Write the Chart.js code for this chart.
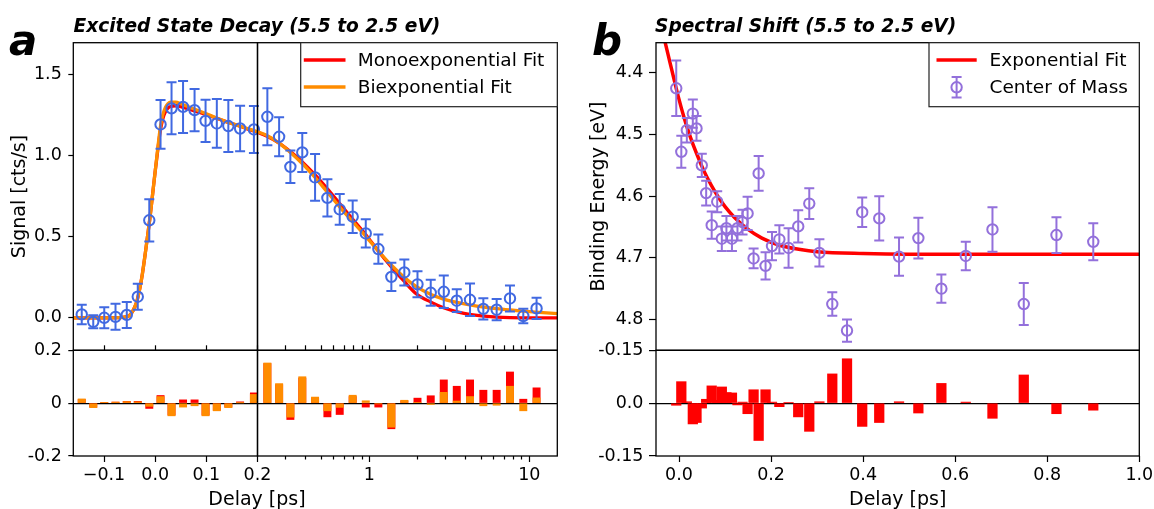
<!DOCTYPE html>
<html>
<head>
<meta charset="utf-8">
<script src="https://cdn.jsdelivr.net/npm/chart.js@4.4.1/dist/chart.umd.min.js"></script>
<style>
  html, body { margin: 0; padding: 0; background: #fff; }
  #stage { position: relative; width: 1154px; height: 509px; overflow: hidden; background: #fff; }
  #stage canvas { position: absolute; left: 0; top: 0; }
  #overlay { position: absolute; left: 0; top: 0; z-index: 10; }
  .title { font-family: 'DejaVu Sans', sans-serif; font-weight: 700; font-style: italic; font-size: 18.6px; }
  .letter { font-family: 'DejaVu Sans', sans-serif; font-weight: 700; font-style: italic; font-size: 42px; }
  .axis { font-family: 'DejaVu Sans', sans-serif; font-size: 19px; }
  .leg { font-family: 'DejaVu Sans', sans-serif; font-size: 18.5px; }
</style>
</head>
<body>
<div id="stage">
<svg id="overlay" width="1154" height="509" xmlns="http://www.w3.org/2000/svg">
  <text class="letter" x="9" y="55">a</text>
  <text class="title" x="73.5" y="31.5">Excited State Decay (5.5 to 2.5 eV)</text>
  <text class="letter" x="592" y="55">b</text>
  <text class="title" x="655" y="31.5">Spectral Shift (5.5 to 2.5 eV)</text>

  <text class="axis" text-anchor="middle" transform="translate(24.5,196.5) rotate(-90)">Signal [cts/s]</text>
  <text class="axis" text-anchor="middle" transform="translate(604,196.5) rotate(-90)">Binding Energy [eV]</text>
  <text class="axis" text-anchor="middle" x="257" y="504.5">Delay [ps]</text>
  <text class="axis" text-anchor="middle" x="897.7" y="504.5">Delay [ps]</text>

  <!-- legend, panel a -->
  <rect x="300.7" y="42.7" width="256.6" height="64" fill="#fff" stroke="#222" stroke-width="1.2"/>
  <line x1="303.8" y1="60" x2="345.5" y2="60" stroke="#FF0000" stroke-width="3.5"/>
  <text class="leg" x="357.7" y="65.7">Monoexponential Fit</text>
  <line x1="303.8" y1="87" x2="345.5" y2="87" stroke="#FF8C00" stroke-width="3.5"/>
  <text class="leg" x="357.7" y="93">Biexponential Fit</text>

  <!-- legend, panel b -->
  <rect x="929" y="42.7" width="210.3" height="64" fill="#fff" stroke="#222" stroke-width="1.2"/>
  <line x1="936.5" y1="60" x2="976.7" y2="60" stroke="#FF0000" stroke-width="3.5"/>
  <text class="leg" x="989.5" y="65.7">Exponential Fit</text>
  <g stroke="#9370DB" stroke-width="2" fill="none">
    <line x1="956.6" y1="77" x2="956.6" y2="97.5"/>
    <line x1="951.6" y1="77" x2="961.6" y2="77"/>
    <line x1="951.6" y1="97.5" x2="961.6" y2="97.5"/>
    <circle cx="956.6" cy="87.3" r="5.2"/>
  </g>
  <text class="leg" x="989.5" y="93">Center of Mass</text>
</svg>
</div>
<script>
// ---------- Panel a: excited-state signal vs delay ----------
const delayA = [-0.1435, -0.121, -0.0995, -0.0775, -0.0555, -0.034, -0.0115, 0.0105, 0.032, 0.0545,
  0.077, 0.0985, 0.1205, 0.143, 0.166, 0.193,
  0.2305, 0.273, 0.321, 0.381, 0.458, 0.547, 0.653, 0.787, 0.95, 1.139, 1.373, 1.655, 2.0, 2.42,
  2.92, 3.52, 4.26, 5.16, 6.25, 7.57, 9.17, 11.1];
const signalA = [0.021, -0.025, 0.0, 0.006, 0.018, 0.13, 0.60, 1.19, 1.289, 1.298,
  1.278, 1.212, 1.196, 1.18, 1.165, 1.159,
  1.237, 1.114, 0.929, 1.018, 0.864, 0.738, 0.667, 0.622, 0.519, 0.423, 0.252, 0.279, 0.206, 0.154,
  0.16, 0.105, 0.111, 0.055, 0.05, 0.119, 0.011, 0.058];
const signalErrA = [0.06, 0.04, 0.065, 0.08, 0.08, 0.08, 0.13, 0.15, 0.16, 0.16,
  0.13, 0.13, 0.15, 0.16, 0.14, 0.145,
  0.175, 0.12, 0.1, 0.12, 0.144, 0.115, 0.095, 0.1, 0.087, 0.09, 0.087, 0.08, 0.08, 0.08,
  0.1, 0.07, 0.1, 0.065, 0.065, 0.08, 0.045, 0.065];
const residMonoA = [0.014, -0.015, 0.003, 0.004, 0.007, 0.007, -0.02, 0.029, -0.045, 0.0125,
  0.0125, -0.045, -0.027, -0.015, 0.005, 0.039,
  0.15, 0.07, -0.062, 0.095, 0.02, -0.052, -0.043, 0.025, -0.015, -0.015, -0.097, 0.009, 0.019, 0.028,
  0.088, 0.064, 0.088, 0.049, 0.049, 0.118, 0.015, 0.058];
const residBiA = [0.016, -0.017, 0.003, 0.004, 0.006, 0.005, -0.012, 0.025, -0.048, -0.015,
  -0.01, -0.048, -0.029, -0.017, 0.001, 0.033,
  0.152, 0.074, -0.053, 0.1, 0.023, -0.029, -0.016, 0.03, 0.009, -0.003, -0.091, 0.011, 0.003, -0.005,
  0.041, 0.008, 0.025, -0.01, -0.008, 0.064, -0.029, 0.02];

const fitDelayA = [-0.16, -0.1, -0.07, -0.06, -0.05, -0.045, -0.04, -0.035, -0.03, -0.025,
  -0.02, -0.015, -0.01, -0.005, 0.0, 0.005, 0.01, 0.015, 0.02, 0.025,
  0.03, 0.04, 0.05, 0.06, 0.08, 0.1, 0.12, 0.14, 0.16, 0.18,
  0.2, 0.226, 0.273, 0.328, 0.385, 0.452, 0.545, 0.656, 0.79, 0.953,
  1.13, 1.37, 1.65, 1.98, 2.41, 2.91, 3.6, 4.33, 5.22, 6.28,
  7.57, 9.12, 10.97, 15];
const biFitA = [0, 0, 0.001, 0.004, 0.015, 0.035, 0.065, 0.11, 0.18, 0.27,
  0.38, 0.5, 0.62, 0.76, 0.9, 1.04, 1.17, 1.25, 1.295, 1.318,
  1.327, 1.327, 1.318, 1.305, 1.28, 1.255, 1.23, 1.205, 1.185, 1.165,
  1.145, 1.125, 1.075, 1.01, 0.945, 0.87, 0.775, 0.68, 0.59, 0.5,
  0.415, 0.325, 0.25, 0.19, 0.145, 0.115, 0.093, 0.078, 0.066, 0.056,
  0.048, 0.041, 0.035, 0.026];
const monoFitA = [0, 0, 0.001, 0.004, 0.015, 0.035, 0.065, 0.11, 0.18, 0.27,
  0.38, 0.5, 0.62, 0.76, 0.9, 1.03, 1.15, 1.225, 1.268, 1.29,
  1.3, 1.305, 1.3, 1.29, 1.27, 1.25, 1.228, 1.206, 1.185, 1.163,
  1.142, 1.12, 1.075, 1.015, 0.955, 0.885, 0.795, 0.70, 0.605, 0.51,
  0.415, 0.315, 0.225, 0.145, 0.098, 0.062, 0.035, 0.02, 0.01, 0.004,
  0.001, 0, 0, 0];

const signalTicks = [0, 0.5, 1.0, 1.5];
const residTicksA = [-0.2, 0, 0.2];
const residTickLabelsA = ['-0.2', '0', '0.2'];
const linDelayTicks = [-0.1, 0, 0.1, 0.2];
const linDelayTickLabels = ['\u22120.1', '0.0', '0.1', '0.2'];
const logMajorTicks = [1, 10];
const logMajorTickLabels = ['1', '10'];
const logMinorTicks = [0.3, 0.4, 0.5, 0.6, 0.7, 0.8, 0.9, 2, 3, 4, 5, 6, 7, 8, 9];

// ---------- Panel b: centre-of-mass binding energy vs delay ----------
const delayB = [-0.006, 0.005, 0.017, 0.03, 0.038, 0.0495, 0.059, 0.071, 0.083, 0.093,
  0.103, 0.115, 0.127, 0.138, 0.149, 0.162, 0.173, 0.188, 0.202, 0.218,
  0.238, 0.259, 0.283, 0.305, 0.333, 0.365, 0.398, 0.435, 0.478, 0.52,
  0.57, 0.623, 0.681, 0.749, 0.82, 0.90];
const energyB = [4.425, 4.528, 4.493, 4.466, 4.49, 4.55, 4.595, 4.647, 4.609, 4.669,
  4.652, 4.669, 4.652, 4.642, 4.628, 4.701, 4.563, 4.713, 4.681, 4.670,
  4.684, 4.649, 4.612, 4.692, 4.775, 4.818, 4.626, 4.636, 4.698, 4.668,
  4.75, 4.697, 4.654, 4.775, 4.663, 4.674];
const energyErrB = [0.045, 0.026, 0.02, 0.023, 0.02, 0.019, 0.02, 0.022, 0.017, 0.02,
  0.02, 0.02, 0.02, 0.02, 0.027, 0.016, 0.028, 0.022, 0.023, 0.023,
  0.032, 0.026, 0.025, 0.022, 0.019, 0.018, 0.024, 0.036, 0.031, 0.033,
  0.023, 0.023, 0.036, 0.034, 0.029, 0.03];
const residB = [-0.006, 0.061, 0.004, -0.059, -0.055, -0.014, 0.011, 0.049, 0.008, 0.046,
  0.03, 0.029, -0.005, 0.003, -0.03, 0.038, -0.106, 0.038, 0.003, -0.01,
  0.001, -0.039, -0.08, 0.004, 0.083, 0.126, -0.066, -0.055, 0.004, -0.028,
  0.056, 0.003, -0.043, 0.08, -0.03, -0.02];
const fitDelayB = [-0.05, -0.03, -0.02, -0.01, 0.0, 0.01, 0.02, 0.03, 0.04, 0.05,
  0.06, 0.08, 0.1, 0.12, 0.15, 0.18, 0.22, 0.26, 0.3, 0.4, 0.5, 0.7, 1.0];
const fitEnergyB = [4.29, 4.351, 4.382, 4.413, 4.443, 4.47, 4.494, 4.515, 4.534, 4.552,
  4.568, 4.595, 4.617, 4.634, 4.654, 4.668, 4.68, 4.686, 4.69, 4.693, 4.694, 4.694, 4.694];

const energyTicks = [4.4, 4.5, 4.6, 4.7, 4.8];
const residTicksB = [-0.15, 0, 0.15];
const residTickLabelsB = ['-0.15', '0.0', '-0.15'];
const delayTicksB = [0, 0.2, 0.4, 0.6, 0.8, 1.0];

// ---------- drawing ----------
const W = 1154, H = 509;
const BLUE = '#4169E1', PURPLE = '#9370DB', RED = '#FF0000', ORANGE = '#FF8C00', INK = '#000';

Chart.defaults.font.family = "'DejaVu Sans', sans-serif";
Chart.defaults.font.size = 17.5;
Chart.defaults.color = INK;

// plot areas of the six axes boxes
const AREA = {
  aMainLin: { left: 73.3, top: 42.7, right: 257.5, bottom: 350.3 },
  aMainLog: { left: 257.5, top: 42.7, right: 557.3, bottom: 350.3 },
  aResLin: { left: 73.3, top: 350.3, right: 257.5, bottom: 456 },
  aResLog: { left: 257.5, top: 350.3, right: 557.3, bottom: 456 },
  bMain: { left: 656, top: 42.7, right: 1139.3, bottom: 350.3 },
  bRes: { left: 656, top: 350.3, right: 1139.3, bottom: 456 }
};

const framePlugin = {
  id: 'frame',
  afterDraw(chart) {
    const a = chart.chartArea, ctx = chart.ctx;
    ctx.save();
    ctx.strokeStyle = INK;
    ctx.lineWidth = 1.3;
    ctx.strokeRect(a.left, a.top, a.right - a.left, a.bottom - a.top);
    ctx.restore();
  }
};

const errorBarPlugin = {
  id: 'errorBars',
  afterDatasetsDraw(chart) {
    const ctx = chart.ctx, xs = chart.scales.x, ys = chart.scales.y;
    chart.data.datasets.forEach(ds => {
      if (!ds.errors) return;
      ctx.save();
      ctx.strokeStyle = ds.borderColor;
      ctx.lineWidth = 2;
      ds.data.forEach((p, i) => {
        const px = xs.getPixelForValue(p.x);
        const lo = ys.getPixelForValue(p.y - ds.errors[i]);
        const hi = ys.getPixelForValue(p.y + ds.errors[i]);
        ctx.beginPath();
        ctx.moveTo(px, lo); ctx.lineTo(px, hi);
        ctx.moveTo(px - 5, lo); ctx.lineTo(px + 5, lo);
        ctx.moveTo(px - 5, hi); ctx.lineTo(px + 5, hi);
        ctx.stroke();
      });
      ctx.restore();
    });
  }
};

function fixedSize(size) {
  return scale => {
    if (scale.isHorizontal()) scale.height = size; else scale.width = size;
    scale.paddingLeft = scale.paddingRight = scale.paddingTop = scale.paddingBottom = 0;
  };
}
function setTicks(values) {
  return scale => { scale.ticks = values.map(v => ({ value: v })); };
}
const tickGrid = len => ({ drawOnChartArea: false, drawTicks: true, tickLength: len, tickColor: INK, tickWidth: 1.2, offset: false });
const zeroGrid = len => ({
  drawOnChartArea: true, drawTicks: len > 0, tickLength: len, tickColor: INK, tickWidth: 1.2, lineWidth: 1.2, offset: false,
  color: c => (c.tick && c.tick.value === 0) ? INK : 'rgba(0,0,0,0)'
});
const noBorder = { display: false };

function makeChart(area, sizes, config) {
  const canvas = document.createElement('canvas');
  canvas.width = W; canvas.height = H;
  document.getElementById('stage').appendChild(canvas);
  config.options.responsive = false;
  config.options.animation = false;
  config.options.devicePixelRatio = 1;
  config.options.layout = { padding: {
    left: area.left - (sizes.left || 0),
    top: area.top - (sizes.top || 0),
    right: W - area.right,
    bottom: H - area.bottom - (sizes.bottom || 0)
  } };
  config.options.plugins = { legend: { display: false }, tooltip: { enabled: false } };
  config.plugins = [framePlugin, errorBarPlugin];
  return new Chart(canvas, config);
}

const pts = (xs, ys) => xs.map((x, i) => ({ x: x, y: ys[i] }));
const inLin = p => p.x <= 0.2;
const inLog = p => p.x >= 0.2;

const signalPts = pts(delayA, signalA);
const linIdx = delayA.map((d, i) => i).filter(i => delayA[i] <= 0.2);
const logIdx = delayA.map((d, i) => i).filter(i => delayA[i] > 0.2);

function markerSet(data, errors, color) {
  return { type: 'scatter', data: data, errors: errors, borderColor: color, pointBorderColor: color,
    backgroundColor: 'rgba(0,0,0,0)', pointBackgroundColor: 'rgba(0,0,0,0)',
    pointRadius: 5.2, pointBorderWidth: 2, showLine: false, clip: false, order: 0 };
}
function curveSet(data, color, width, order) {
  return { type: 'line', data: data, borderColor: color, borderWidth: width, pointRadius: 0,
    cubicInterpolationMode: 'monotone', fill: false, order: order };
}
function barSet(data, color, thickness, order) {
  return { data: data, backgroundColor: color, barThickness: thickness, grouped: false,
    borderWidth: 0, clip: false, order: order };
}

const LIN_MIN = -0.16, LIN_MAX = 0.2, LOG_MIN = 0.2, LOG_MAX = 14.96;

// panel a, main plot, linear delay range
makeChart(AREA.aMainLin, { left: 60 }, {
  type: 'scatter',
  data: { datasets: [
    markerSet(linIdx.map(i => signalPts[i]), linIdx.map(i => signalErrA[i]), BLUE),
    curveSet(pts(fitDelayA, biFitA).filter(inLin), ORANGE, 3.3, 1),
    curveSet(pts(fitDelayA, monoFitA).filter(inLin), RED, 3.3, 2)
  ] },
  options: { scales: {
    x: { type: 'linear', display: false, min: LIN_MIN, max: LIN_MAX, bounds: 'data', offset: false },
    y: { type: 'linear', min: -0.2, max: 1.693, bounds: 'data', afterBuildTicks: setTicks(signalTicks),
      afterFit: fixedSize(60), ticks: { callback: v => v.toFixed(1), padding: 6.5, autoSkip: false },
      grid: tickGrid(5), border: noBorder }
  } }
});

// panel a, main plot, logarithmic delay range
makeChart(AREA.aMainLog, {}, {
  type: 'scatter',
  data: { datasets: [
    markerSet(logIdx.map(i => signalPts[i]), logIdx.map(i => signalErrA[i]), BLUE),
    curveSet(pts(fitDelayA, biFitA).filter(inLog), ORANGE, 3.3, 1),
    curveSet(pts(fitDelayA, monoFitA).filter(inLog), RED, 3.3, 2)
  ] },
  options: { scales: {
    x: { type: 'logarithmic', display: false, min: LOG_MIN, max: LOG_MAX, bounds: 'data', offset: false },
    y: { type: 'linear', display: false, min: -0.2, max: 1.693, bounds: 'data' }
  } }
});

const residMonoPts = pts(delayA, residMonoA);
const residBiPts = pts(delayA, residBiA);

// panel a, residuals, linear delay range
makeChart(AREA.aResLin, { left: 60, top: 5, bottom: 45 }, {
  type: 'bar',
  data: { datasets: [
    barSet(linIdx.map(i => residBiPts[i]), ORANGE, 7.3, 0),
    barSet(linIdx.map(i => residMonoPts[i]), RED, 7.3, 1)
  ] },
  options: { scales: {
    x: { type: 'linear', position: 'bottom', min: LIN_MIN, max: LIN_MAX, bounds: 'data', offset: false,
      afterBuildTicks: setTicks(linDelayTicks), afterFit: fixedSize(45),
      ticks: { callback: (v, i) => linDelayTickLabels[i], padding: 2.5, autoSkip: false, maxRotation: 0 },
      grid: tickGrid(6), border: noBorder },
    xt: { type: 'linear', axis: 'x', position: 'top', min: LIN_MIN, max: LIN_MAX, bounds: 'data', offset: false,
      afterBuildTicks: setTicks(linDelayTicks), afterFit: fixedSize(5),
      ticks: { display: false }, grid: tickGrid(5), border: noBorder },
    y: { type: 'linear', min: -0.2, max: 0.2, bounds: 'data', afterBuildTicks: setTicks(residTicksA),
      afterFit: fixedSize(60), ticks: { callback: (v, i) => residTickLabelsA[i], padding: 6.5, autoSkip: false },
      grid: zeroGrid(5), border: noBorder }
  } }
});

// panel a, residuals, logarithmic delay range
makeChart(AREA.aResLog, { top: 5, bottom: 45 }, {
  type: 'bar',
  data: { datasets: [
    barSet(logIdx.map(i => residBiPts[i]), ORANGE, 7.3, 0),
    barSet(logIdx.map(i => residMonoPts[i]), RED, 7.3, 1)
  ] },
  options: { scales: {
    xm: { type: 'logarithmic', axis: 'x', position: 'bottom', weight: 0, min: LOG_MIN, max: LOG_MAX, bounds: 'data', offset: false,
      afterBuildTicks: setTicks(logMinorTicks), afterFit: fixedSize(0),
      ticks: { display: false }, grid: tickGrid(3.5), border: noBorder },
    x: { type: 'logarithmic', position: 'bottom', weight: 1, min: LOG_MIN, max: LOG_MAX, bounds: 'data', offset: false,
      afterBuildTicks: setTicks(logMajorTicks), afterFit: fixedSize(45),
      ticks: { callback: (v, i) => logMajorTickLabels[i], padding: 2.5, autoSkip: false, maxRotation: 0 },
      grid: tickGrid(6), border: noBorder },
    xt: { type: 'logarithmic', axis: 'x', position: 'top', min: LOG_MIN, max: LOG_MAX, bounds: 'data', offset: false,
      afterBuildTicks: setTicks(logMinorTicks.concat(logMajorTicks).sort((a, b) => a - b)), afterFit: fixedSize(5),
      ticks: { display: false }, grid: tickGrid(5), border: noBorder },
    y: { type: 'linear', min: -0.2, max: 0.2, bounds: 'data', afterBuildTicks: setTicks(residTicksA),
      afterFit: fixedSize(0), ticks: { display: false }, grid: zeroGrid(0), border: noBorder }
  } }
});

// panel b, main plot
makeChart(AREA.bMain, { left: 70 }, {
  type: 'scatter',
  data: { datasets: [
    markerSet(pts(delayB, energyB), energyErrB, PURPLE),
    curveSet(pts(fitDelayB, fitEnergyB), RED, 3.5, 1)
  ] },
  options: { scales: {
    x: { type: 'linear', display: false, min: -0.05, max: 1.0, bounds: 'data', offset: false },
    y: { type: 'linear', reverse: true, min: 4.351, max: 4.85, bounds: 'data', afterBuildTicks: setTicks(energyTicks),
      afterFit: fixedSize(70), ticks: { callback: v => v.toFixed(1), padding: 5.5, autoSkip: false },
      grid: tickGrid(7), border: noBorder }
  } }
});

// panel b, residuals
makeChart(AREA.bRes, { left: 70, bottom: 45 }, {
  type: 'bar',
  data: { datasets: [ barSet(pts(delayB, residB), RED, 9.6, 0) ] },
  options: { scales: {
    x: { type: 'linear', position: 'bottom', min: -0.05, max: 1.0, bounds: 'data', offset: false,
      afterBuildTicks: setTicks(delayTicksB), afterFit: fixedSize(45),
      ticks: { callback: v => v.toFixed(1), padding: 2.5, autoSkip: false, maxRotation: 0 },
      grid: tickGrid(6), border: noBorder },
    y: { type: 'linear', min: -0.15, max: 0.15, bounds: 'data', afterBuildTicks: setTicks(residTicksB),
      afterFit: fixedSize(70), ticks: { callback: (v, i) => residTickLabelsB[i], padding: 5.5, autoSkip: false },
      grid: zeroGrid(7), border: noBorder }
  } }
});
</script>
</body>
</html>
